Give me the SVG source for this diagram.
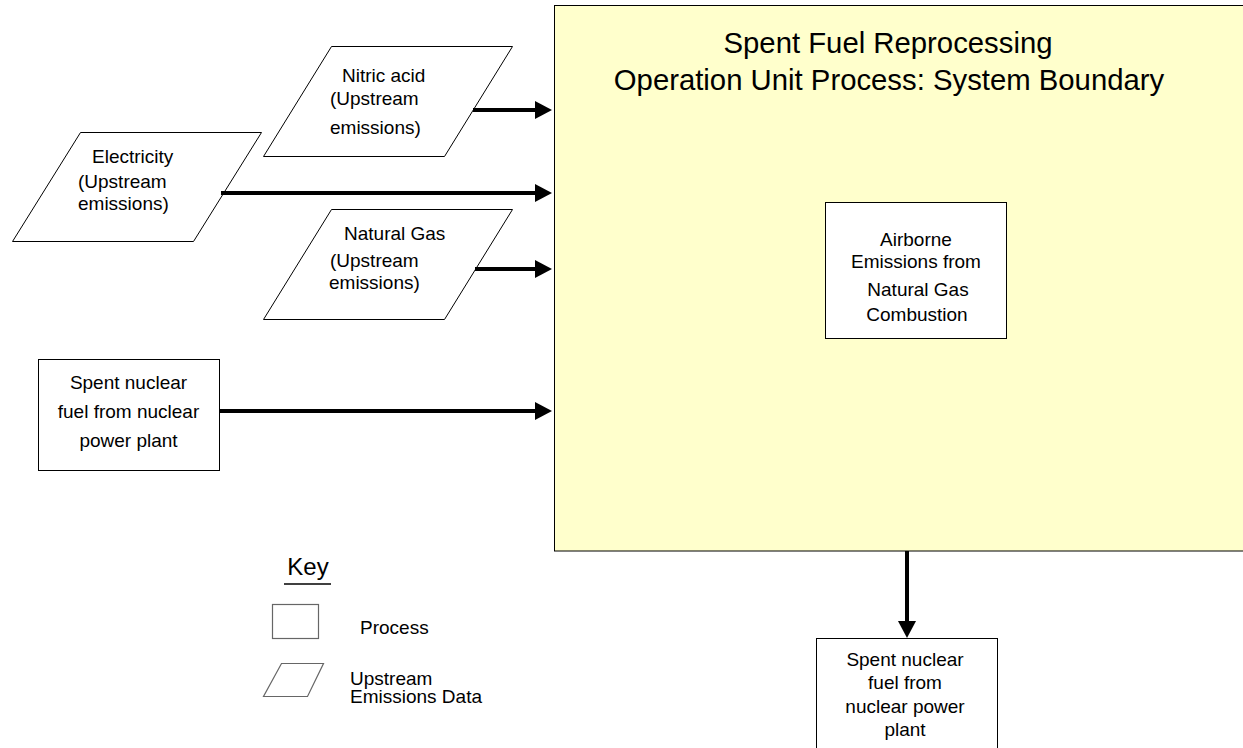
<svg xmlns="http://www.w3.org/2000/svg" width="1243" height="748" viewBox="0 0 1243 748">
<style>
text{font-family:"Liberation Sans",Arial,sans-serif;fill:#000}
.t{font-size:19px}
.c{text-anchor:middle}
.title{font-size:29.3px;text-anchor:middle}
.node{fill:#fff;stroke:#000;stroke-width:1}
.key{fill:#fff;stroke:#666;stroke-width:1.2}
.conn{stroke:#000;stroke-width:4;fill:none}
</style>
<defs>
<marker id="ah" markerUnits="userSpaceOnUse" markerWidth="17" markerHeight="18" refX="0" refY="9" orient="auto">
<path d="M0,0 L17,9 L0,18 z" fill="#000"/>
</marker>
</defs>
<rect width="1243" height="748" fill="#fff"/>
<g id="boundary">
<rect x="554.5" y="5.5" width="695" height="545.5" fill="#FFFFCC" stroke="#000" stroke-width="1"/>
<text class="title" x="888" y="53">Spent Fuel Reprocessing</text>
<text class="title" x="889" y="90">Operation Unit Process: System Boundary</text>
</g>
<g id="airborne">
<rect class="node" x="825.5" y="202.5" width="181" height="136"/>
<text class="t c" x="916" y="246">Airborne</text>
<text class="t c" x="916" y="268">Emissions from</text>
<text class="t c" x="918" y="296">Natural Gas</text>
<text class="t c" x="917" y="321">Combustion</text>
</g>
<g id="nitric">
<polygon class="node" points="331.5,46.5 512.5,46.5 444.5,156.5 263.5,156.5"/>
<text class="t" x="342" y="82">Nitric acid</text>
<text class="t" x="330" y="105">(Upstream</text>
<text class="t" x="330" y="134">emissions)</text>
</g>
<g id="electricity">
<polygon class="node" points="80.5,132.5 261.5,132.5 193.5,241.5 12.5,241.5"/>
<text class="t" x="92" y="163">Electricity</text>
<text class="t" x="78" y="188">(Upstream</text>
<text class="t" x="78" y="210">emissions)</text>
</g>
<g id="natgas">
<polygon class="node" points="331.5,209.5 512.5,209.5 444.5,319.5 263.5,319.5"/>
<text class="t" x="344" y="240">Natural Gas</text>
<text class="t" x="330" y="267">(Upstream</text>
<text class="t" x="329" y="289">emissions)</text>
</g>
<g id="spent_in">
<rect class="node" x="38.5" y="359.5" width="181" height="111"/>
<text class="t c" x="128.5" y="389">Spent nuclear</text>
<text class="t c" x="128.5" y="418">fuel from nuclear</text>
<text class="t c" x="128.5" y="447">power plant</text>
</g>
<g id="spent_out">
<rect class="node" x="816.5" y="638.5" width="181" height="120"/>
<text class="t c" x="905" y="666">Spent nuclear</text>
<text class="t c" x="905" y="689">fuel from</text>
<text class="t c" x="905" y="713">nuclear power</text>
<text class="t c" x="905" y="736">plant</text>
</g>
<g id="connectors">
<line class="conn" x1="473" y1="110" x2="535" y2="110" marker-end="url(#ah)"/>
<line class="conn" x1="221" y1="193" x2="535" y2="193" marker-end="url(#ah)"/>
<line class="conn" x1="475" y1="269" x2="535" y2="269" marker-end="url(#ah)"/>
<line class="conn" x1="219" y1="411" x2="535" y2="411" marker-end="url(#ah)"/>
<line class="conn" x1="907" y1="551" x2="907" y2="621" marker-end="url(#ah)"/>
</g>
<g id="legend">
<text x="308" y="575" style="font-size:24px;text-anchor:middle">Key</text>
<line x1="284" y1="584" x2="331" y2="584" stroke="#000" stroke-width="1.5"/>
<rect class="key" x="272.5" y="604.5" width="46" height="34"/>
<text class="t" x="360" y="634">Process</text>
<polygon class="key" points="281.5,663.5 323.5,663.5 307.5,696.5 263.5,696.5"/>
<text class="t" x="350" y="685">Upstream</text>
<text class="t" x="350" y="703">Emissions Data</text>
</g>
</svg>
